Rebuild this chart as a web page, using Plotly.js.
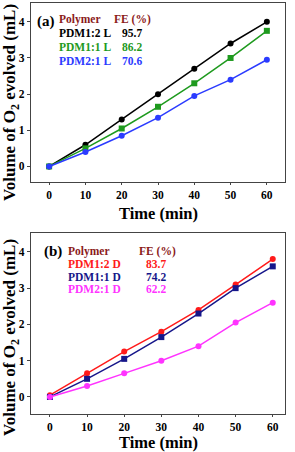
<!DOCTYPE html>
<html><head><meta charset="utf-8">
<script src="https://cdn.plot.ly/plotly-3.0.1.min.js"></script>
<style>html,body{margin:0;padding:0;background:#fff}#c{width:295px;height:452px}</style>
</head><body><div id="c"></div>
<script>
const time = [0, 10, 20, 30, 40, 50, 60];
// panel (a)
const namesA = ["PDM1:2 L", "PDM1:1 L", "PDM2:1 L"];
const feA = ["95.7", "86.2", "70.6"];
const pdm12L = [0, 0.6, 1.3, 2.0, 2.7, 3.4, 4.0];
const pdm11L = [0, 0.5, 1.05, 1.65, 2.3, 3.0, 3.75];
const pdm21L = [0, 0.4, 0.85, 1.35, 1.95, 2.4, 2.95];
// panel (b)
const namesB = ["PDM1:2 D", "PDM1:1 D", "PDM2:1 D"];
const feB = ["83.7", "74.2", "62.2"];
const pdm12D = [0.05, 0.65, 1.25, 1.8, 2.4, 3.1, 3.8];
const pdm11D = [0, 0.5, 1.05, 1.65, 2.3, 3.0, 3.6];
const pdm21D = [0, 0.3, 0.65, 1.0, 1.4, 2.05, 2.6];
const xTicks = [0, 10, 20, 30, 40, 50, 60];
const yTicks = [0, 1, 2, 3, 4];

const colA = ["#000000", "#1E9A1E", "#2B3BFF"];
const symA = ["circle", "square", "circle"];
const colB = ["#FF1A1A", "#16168A", "#FF33FF"];
const symB = ["circle", "square", "circle"];
const FONT = "Liberation Serif";

const traces = [];
[pdm12L, pdm11L, pdm21L].forEach((y, i) => traces.push({
  x: time, y: y, type: "scatter", mode: "lines+markers", xaxis: "x", yaxis: "y",
  line: {color: colA[i], width: 1.5}, marker: {color: colA[i], size: 6, symbol: symA[i]},
  name: namesA[i], showlegend: false
}));
[pdm12D, pdm11D, pdm21D].forEach((y, i) => traces.push({
  x: time, y: y, type: "scatter", mode: "lines+markers", xaxis: "x2", yaxis: "y2",
  line: {color: colB[i], width: 1.5}, marker: {color: colB[i], size: 6, symbol: symB[i]},
  name: namesB[i], showlegend: false
}));

function ax(extra) {
  return Object.assign({
    showline: true, mirror: true, linecolor: "#444", linewidth: 1.2,
    ticks: "outside", ticklen: 2, tickcolor: "#444", showgrid: false, zeroline: false,
    tickfont: {family: FONT, size: 11.5, color: "#000", weight: "bold"}
  }, extra);
}
const W = 295, H = 452;
const px = v => v / W, py = v => 1 - v / H;

const ann = [];
function t(text, x, y, color, size, extra) {
  ann.push(Object.assign({text: "<b>" + text + "</b>", x: px(x), y: py(y), xref: "paper", yref: "paper",
    showarrow: false, xanchor: "left", yanchor: "middle", borderpad: 0,
    font: {family: FONT, size: size, color: color}}, extra || {}));
}
// panel a labels
t("(a)", 36, 22, "#000", 15);
t("Polymer", 58, 20, "#8B1A1A", 11.5);
t("FE (%)", 113, 20, "#8B1A1A", 11.5);
const rowsA = [33, 47, 61];
namesA.forEach((n, i) => { t(n, 58, rowsA[i], colA[i], 11.5); t(feA[i], 121, rowsA[i], colA[i], 11.5); });
// panel b labels
t("(b)", 43, 251, "#000", 15);
t("Polymer", 67, 251, "#8B1A1A", 11.5);
t("FE (%)", 138, 251, "#8B1A1A", 11.5);
const rowsB = [264, 277, 289];
namesB.forEach((n, i) => { t(n, 67, rowsB[i], colB[i], 11.5); t(feB[i], 145, rowsB[i], colB[i], 11.5); });
// axis titles
t("Time (min)", 158, 213, "#000", 16.5, {xanchor: "center"});
t("Time (min)", 158, 442, "#000", 16.5, {xanchor: "center"});
t("Volume of O<sub>2</sub> evolved (mL)", 11, 103, "#000", 17, {xanchor: "center", textangle: -90});
t("Volume of O<sub>2</sub> evolved (mL)", 11, 338, "#000", 17, {xanchor: "center", textangle: -90});

const layout = {
  width: W, height: H, margin: {l: 0, r: 0, t: 0, b: 0},
  paper_bgcolor: "#fff", plot_bgcolor: "#fff", showlegend: false,
  xaxis: ax({domain: [px(31), px(285)], range: [-5, 65], tickvals: xTicks, anchor: "y"}),
  yaxis: ax({domain: [py(182), py(3)], range: [-0.43, 4.52], tickvals: yTicks, anchor: "x", ticklen: 3}),
  xaxis2: ax({domain: [px(31), px(285)], range: [-5.1, 63.3], tickvals: xTicks, anchor: "y2"}),
  yaxis2: ax({domain: [py(414), py(233)], range: [-0.47, 4.52], tickvals: yTicks, anchor: "x2", ticklen: 3}),
  annotations: ann
};
Plotly.newPlot("c", traces, layout, {staticPlot: true, displayModeBar: false});
</script>
</body></html>
